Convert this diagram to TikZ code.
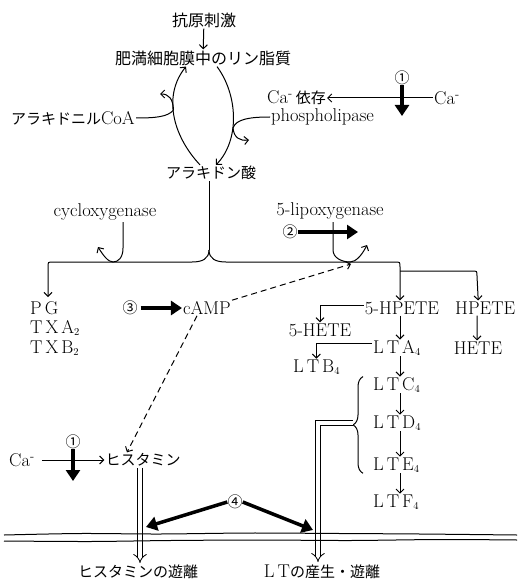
\documentclass[tikz,border=0pt]{standalone}
\usepackage{fontspec}
\newfontfamily\jpfont{Noto Sans CJK JP}
\usetikzlibrary{arrows.meta,decorations.pathreplacing}
\newcommand\lf{\fontsize{18.5}{21}\selectfont}
\newcommand\jf{\jpfont\fontsize{15}{18}\selectfont}
\newcommand\jk{\jpfont\fontsize{16}{18}\selectfont}
\newcommand\lsp{\hspace{3pt}}
\newcommand\lsub[1]{\raisebox{-1.5pt}{\fontsize{10.5}{10.5}\selectfont #1}}
\begin{document}
\begin{tikzpicture}[x=1pt,y=-1pt,
  lt/.style={inner sep=1pt, font=\lf},
  jt/.style={inner sep=1pt, font=\jf},
  jkt/.style={inner sep=1pt, font=\jk},
  circ/.style={inner sep=0pt, font=\jf},
  ln/.style={line width=1pt},
  arr/.style={line width=1pt, -{Straight Barb[length=4pt,width=8pt]}},
  bold/.style={line width=4pt, -{Triangle[length=11pt,width=14pt]}},
  dsh/.style={line width=1pt, dash pattern=on 6pt off 4pt, -{Straight Barb[length=4pt,width=8pt]}},
  dbl/.style={double, double distance=4pt, line width=0.8pt, -{Implies}}]
\useasboundingbox (0,0) rectangle (517,585);
\fill[white] (0,0) rectangle (517,585);

% top
\node[jkt] (antigen) at (204,20) {抗原刺激};
\node[jkt] (lipid) at (203,58) {肥満細胞膜中のリン脂質};
\draw[arr] (antigen) -- (lipid);
\node[jt] (aa) at (211,173) {アラキドン酸};
\node[lt, anchor=east] (coa) at (136,118) {{\jf アラキドニル}CoA};
\node[lt, anchor=west] (cadep) at (266,98) {Ca\textsuperscript{-}\,{\jf 依存}};
\node[lt, anchor=west] (phos) at (270,117) {phospholipase};
\node[lt, anchor=west] (ca1) at (433,98) {Ca\textsuperscript{-}};
\node[circ] (n1a) at (402,78) {①};
\coordinate (b1) at (402,116);
\coordinate (lj) at (173.5,110);
\coordinate (rj) at (233,128);

\draw[arr] ([xshift=-11pt]aa.north) .. controls (172,135) and (163,95) .. ([xshift=-17pt]lipid.south);
\draw[arr] ([xshift=14pt]lipid.south) .. controls (238,95) and (240,140) .. ([xshift=5pt]aa.north);
\draw[ln] (coa.east) .. controls (155,118) and (168,117) .. (lj);
\draw[arr] (lj) .. controls (173,99) and (169,94) .. (160,94);
\draw[ln] (phos.west) .. controls (250,117) and (236,119) .. (rj);
\draw[arr] (rj) .. controls (234,138) and (240,141) .. (249,140);
\draw[arr] (ca1.west) -- (cadep.east);
\draw[bold] (n1a.south) -- (b1);

% branching
\coordinate (split) at (209,250);
\coordinate (j5) at (351,264);
\node[lt] (cyc) at (105,212) {cycloxygenase};
\node[lt] (lipox) at (330,211) {5-lipoxygenase};
\node[circ] (n2) at (290,232) {②};
\coordinate (b2) at (358,232);
\node[lt, anchor=west] (pg) at (29,308) {P\lsp G};
\node[lt, anchor=west] (txa) at (29,328) {T\lsp X\lsp A\lsub{2}};
\node[lt, anchor=west] (txb) at (29,348) {T\lsp X\lsp B\lsub{2}};
\node[circ] (n3) at (130,308) {③};
\node[lt] (camp) at (207,308) {cAMP};
\node[lt] (hpete5) at (402,308) {5-HPETE};
\node[lt, anchor=west] (hpete) at (454,308) {HPETE};
\node[lt] (hete5) at (320,330) {5-HETE};
\node[lt] (hete) at (478,348) {HETE};
\node[lt, anchor=west] (lta4) at (372,348) {L\lsp T\lsp A\lsub{4}};
\node[lt, anchor=west] (ltb4) at (292,367) {L\lsp T\lsp B\lsub{4}};
\node[lt, anchor=west] (ltc4) at (372,385) {L\lsp T\lsp C\lsub{4}};
\node[lt, anchor=west] (ltd4) at (372,423) {L\lsp T\lsp D\lsub{4}};
\node[lt, anchor=west] (lte4) at (372,465) {L\lsp T\lsp E\lsub{4}};
\node[lt, anchor=west] (ltf4) at (372,502) {L\lsp T\lsp F\lsub{4}};
\coordinate (col) at (400,0);

\draw[ln] (aa.south -| split) -- (split);
\draw[arr] (split) .. controls (209,259) and (202,262) .. (192,262) -- (53,262) .. controls (48,262) .. (48,267) -- (48,297);
\draw[arr] (split) .. controls (209,259) and (216,262) .. (226,262) -- (395,262) .. controls (400,262) .. (400,267) -- (hpete5.north -| col);
\draw[arr] (400,271) -- (472,271) .. controls (477,271) .. (477,276) -- ([xshift=-7pt]hpete.north);
\draw[arr] (123,222) -- (123,248) .. controls (123,258) and (118,262) .. (113,262) .. controls (108,262) and (103,255) .. (98,247);
\draw[arr] (333,222) -- (333,250) .. controls (333,258) and (342,262) .. (350,262) .. controls (356,262) and (362,255) .. (367,245);
\draw[bold] (n2.east) -- (b2);
\draw[bold, shorten <=3pt] (n3.east) -- (camp.west);
\draw[dsh] (camp.north east) -- (j5);

\draw[arr] ([yshift=3pt]hpete5.west) -| (hete5.north);
\draw[arr] (hpete5.south -| col) -- (lta4.north -| col);
\draw[arr] ([xshift=-8pt]hpete.south) -- ([xshift=-1pt]hete.north);
\draw[arr] ([yshift=5pt]lta4.west) -| (ltb4.north);
\draw[arr] (lta4.south -| col) -- (ltc4.north -| col);
\draw[arr] (ltc4.south -| col) -- (ltd4.north -| col);
\draw[arr] (ltd4.south -| col) -- (lte4.north -| col);
\draw[arr] (lte4.south -| col) -- (ltf4.north -| col);
\draw[ln, decorate, decoration={brace, amplitude=10pt}] ([xshift=-9pt]lte4.south west) -- ([xshift=-9pt]ltc4.north west);
\coordinate (bt) at (353,423);
\coordinate (ltc) at (318,423);
\coordinate (ltd) at (318,562);
\draw[dbl] (bt) -- (ltc) -- (ltd);

% lower left
\node[lt] (ca2) at (22,460) {Ca\textsuperscript{-}};
\node[jt] (hist) at (143,460) {ヒスタミン};
\node[circ] (n1b) at (73,442) {①};
\coordinate (b1b) at (73,481);
\draw[arr, shorten <=6pt] (ca2.east) -- (hist.west);
\draw[bold] (n1b.south) -- (b1b);
\draw[dsh] ([xshift=-10pt]camp.south) -- ([xshift=-16pt]hist.north);
\coordinate (hd) at (140,563);
\draw[dbl] ([xshift=-3pt]hist.south) -- (hd);

% membrane
\draw[ln] plot[smooth] coordinates {(4,535) (80,533.5) (160,534) (250,533) (340,533.5) (420,534) (517,535)};
\draw[ln] plot[smooth] coordinates {(4,541) (90,541.5) (170,540.5) (260,540) (350,540.5) (440,539.5) (517,540)};

% (4)
\node[circ] (n4) at (235,502) {④};
\coordinate (a4l) at (146,527);
\coordinate (a4r) at (313,530);
\draw[bold, line width=3.5pt] (n4.west) -- (a4l);
\draw[bold, line width=3.5pt] (n4.east) -- (a4r);

\node[jt] (hrel) at (138,572) {ヒスタミンの遊離};
\node[lt] (ltrel) at (322,572) {L\lsp T{\jf の産生・遊離}};
\end{tikzpicture}
\end{document}
